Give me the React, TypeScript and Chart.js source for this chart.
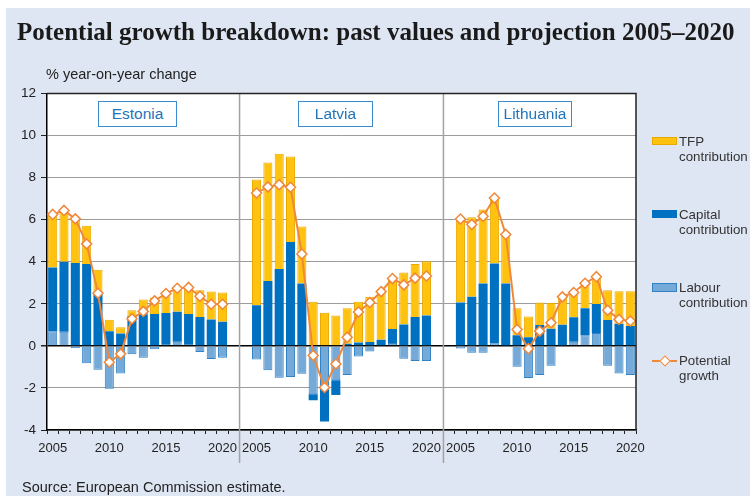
import React, { useEffect, useRef } from 'react';
import { Chart, registerables } from 'chart.js';

Chart.register(...registerables);

// ---------- data ----------
const YEARS = ['2005', '2006', '2007', '2008', '2009', '2010', '2011', '2012', '2013', '2014', '2015', '2016', '2017', '2018', '2019', '2020'];
const COUNTRIES = ['Estonia', 'Latvia', 'Lithuania'];
const GAP_SLOTS = 2;
const Y_MIN = -4;
const Y_MAX = 12;
const Y_STEP = 2;

const EE_LABOUR = [0.7, 0.67, -0.1, -0.83, -1.13, -2.04, -1.31, -0.4, -0.57, -0.16, 0.05, 0.2, 0.05, -0.29, -0.62, -0.57];
const EE_CAPITAL = [3.03, 3.33, 3.94, 3.89, 2.46, 0.69, 0.59, 1.42, 1.5, 1.52, 1.51, 1.42, 1.47, 1.37, 1.26, 1.15];
const EE_TFP = [2.59, 2.44, 2.1, 1.82, 1.16, 0.55, 0.3, 0.27, 0.7, 0.78, 0.93, 1.13, 1.29, 1.28, 1.32, 1.39];
const EE_POTENTIAL = [6.25, 6.44, 6.04, 4.85, 2.5, -0.78, -0.38, 1.29, 1.64, 2.14, 2.49, 2.74, 2.78, 2.36, 1.98, 1.98];

const LV_LABOUR = [-0.65, -1.16, -1.52, -1.48, -1.32, -2.3, -1.9, -1.63, -1.39, -0.51, -0.27, 0, 0.14, -0.61, -0.72, -0.72];
const LV_CAPITAL = [1.93, 3.09, 3.65, 4.94, 2.97, -0.29, -1.7, -0.7, 0.1, 0.16, 0.18, 0.29, 0.66, 1.02, 1.37, 1.44];
const LV_TFP = [5.98, 5.63, 5.49, 4.07, 2.71, 2.1, 1.58, 1.45, 1.69, 1.94, 2.16, 2.33, 2.4, 2.47, 2.52, 2.58];
const LV_POTENTIAL = [7.27, 7.56, 7.66, 7.54, 4.37, -0.46, -1.98, -0.86, 0.41, 1.61, 2.06, 2.58, 3.2, 2.9, 3.22, 3.32];

const LT_LABOUR = [-0.13, -0.33, -0.33, 0.13, 0, -0.99, -1.53, -1.39, -0.94, 0, 0.2, 0.51, 0.61, -0.94, -1.31, -1.39];
const LT_CAPITAL = [2.06, 2.34, 2.97, 3.79, 2.97, 0.51, 0.41, 0.99, 0.81, 1.0, 1.16, 1.28, 1.38, 1.23, 1.05, 0.94];
const LT_TFP = [3.98, 3.78, 3.52, 3.08, 2.33, 1.28, 0.99, 1.07, 1.23, 1.3, 1.19, 1.21, 1.26, 1.42, 1.55, 1.66];
const LT_POTENTIAL = [6.03, 5.77, 6.16, 7.03, 5.3, 0.78, -0.14, 0.7, 1.1, 2.33, 2.54, 2.98, 3.29, 1.69, 1.26, 1.18];

const LABOUR = [EE_LABOUR, LV_LABOUR, LT_LABOUR];
const CAPITAL = [EE_CAPITAL, LV_CAPITAL, LT_CAPITAL];
const TFP = [EE_TFP, LV_TFP, LT_TFP];
const POTENTIAL = [EE_POTENTIAL, LV_POTENTIAL, LT_POTENTIAL];

// ---------- styles ----------
const C_TFP = '#ffc20e';
const C_TFP_BORDER = '#eaa900';
const C_CAPITAL = '#0070c0';
const C_LABOUR = '#74a9d8';
const C_LABOUR_BORDER = '#2f82c6';
const C_LINE = '#f0883a';
const BG = '#dfe6f3';
const SANS = '"Liberation Sans", Arial, sans-serif';
const SERIF = '"Liberation Serif", "Times New Roman", serif';

function joinPanels<T>(parts: T[][], gap: T): T[] {
  const out: T[] = [];
  parts.forEach((p, i) => {
    if (i > 0) for (let g = 0; g < GAP_SLOTS; g++) out.push(gap);
    out.push(...p);
  });
  return out;
}

const LABELS = joinPanels(COUNTRIES.map(() => YEARS), '');

const decorPlugin = {
  id: 'decor',
  beforeDraw(chart: any) {
    const { ctx, chartArea } = chart;
    ctx.save();
    ctx.fillStyle = '#ffffff';
    ctx.fillRect(chartArea.left, chartArea.top, chartArea.right - chartArea.left, chartArea.bottom - chartArea.top);
    ctx.restore();
  },
  afterDraw(chart: any) {
    const { ctx, chartArea, scales } = chart;
    const x = scales.x;
    const slot = (chartArea.right - chartArea.left) / LABELS.length;
    ctx.save();
    // separators between panels
    ctx.strokeStyle = '#a3a3a3';
    ctx.lineWidth = 1.5;
    for (let i = 1; i < COUNTRIES.length; i++) {
      const idx = i * YEARS.length + (i - 1) * GAP_SLOTS; // first gap slot
      const px = x.getPixelForValue(idx) + slot / 2;
      ctx.beginPath();
      ctx.moveTo(px, chartArea.top);
      ctx.lineTo(px, 463);
      ctx.stroke();
    }
    // right & top border
    ctx.strokeStyle = '#222';
    ctx.lineWidth = 1.5;
    ctx.beginPath();
    ctx.moveTo(chartArea.left, chartArea.top);
    ctx.lineTo(chartArea.right, chartArea.top);
    ctx.lineTo(chartArea.right, chartArea.bottom);
    ctx.stroke();
    ctx.restore();
  },
};

export default function App() {
  const canvasRef = useRef<HTMLCanvasElement | null>(null);

  useEffect(() => {
    document.body.style.margin = '0';
    const canvas = canvasRef.current;
    if (!canvas) return;
    const chart = new Chart(canvas, {
      type: 'bar',
      data: {
        labels: LABELS,
        datasets: [
          {
            type: 'line',
            label: 'Potential growth',
            data: joinPanels(POTENTIAL, null as any),
            borderColor: C_LINE,
            borderWidth: 2,
            pointStyle: 'rectRot',
            pointRadius: 5,
            pointBackgroundColor: '#ffffff',
            pointBorderColor: C_LINE,
            pointBorderWidth: 1.5,
            spanGaps: false,
            tension: 0,
            stack: 'potential',
          } as any,
          {
            label: 'Labour contribution',
            data: joinPanels(LABOUR, null as any),
            backgroundColor: C_LABOUR,
            borderColor: C_LABOUR_BORDER,
            borderWidth: 1,
            stack: 'bars',
            barPercentage: 0.8,
            categoryPercentage: 1,
          },
          {
            label: 'Capital contribution',
            data: joinPanels(CAPITAL, null as any),
            backgroundColor: C_CAPITAL,
            borderColor: C_CAPITAL,
            borderWidth: 0,
            stack: 'bars',
            barPercentage: 0.8,
            categoryPercentage: 1,
          },
          {
            label: 'TFP contribution',
            data: joinPanels(TFP, null as any),
            backgroundColor: C_TFP,
            borderColor: C_TFP_BORDER,
            borderWidth: 1,
            stack: 'bars',
            barPercentage: 0.8,
            categoryPercentage: 1,
          },
        ],
      },
      options: {
        responsive: false,
        animation: false,
        layout: { padding: { left: 0, right: 114, top: 93.5, bottom: 0 } },
        plugins: { legend: { display: false }, tooltip: { enabled: false } },
        scales: {
          x: {
            type: 'category',
            stacked: true,
            offset: true,
            grid: {
              display: true,
              drawOnChartArea: false,
              drawTicks: true,
              tickLength: 4,
              offset: true,
              color: '#222',
              lineWidth: 1,
            },
            border: { display: true, color: '#000', width: 1.5 },
            ticks: {
              autoSkip: false,
              maxRotation: 0,
              minRotation: 0,
              padding: 7,
              color: '#222',
              font: { family: SANS, size: 13 },
              callback(this: any, v: any) {
                const l = this.getLabelForValue(v);
                return l && Number(l) % 5 === 0 ? l : '';
              },
            },
            afterFit(s: any) {
              s.height = 66;
            },
          },
          y: {
            stacked: true,
            min: Y_MIN,
            max: Y_MAX,
            ticks: {
              stepSize: Y_STEP,
              padding: 5,
              color: '#222',
              font: { family: SANS, size: 13.5 },
            },
            grid: {
              color: (c: any) => (c.tick && c.tick.value === 0 ? '#000' : '#9c9c9c'),
              lineWidth: (c: any) => (c.tick && c.tick.value === 0 ? 1.5 : 1),
              tickColor: '#222',
              tickLength: 6,
              drawTicks: true,
            },
            border: { color: '#000', width: 1.5 },
            afterFit(s: any) {
              s.width = 47;
            },
          },
        },
      } as any,
      plugins: [decorPlugin],
    });
    return () => chart.destroy();
  }, []);

  const boxes = [
    { name: COUNTRIES[0], left: 98, width: 79 },
    { name: COUNTRIES[1], left: 298, width: 75 },
    { name: COUNTRIES[2], left: 498, width: 74 },
  ];

  const legendText: React.CSSProperties = {
    position: 'absolute',
    left: 679,
    fontFamily: SANS,
    fontSize: 13.3,
    lineHeight: '15.5px',
    color: '#333',
    whiteSpace: 'nowrap',
  };

  return (
    <div style={{ position: 'relative', width: 750, height: 496, background: '#fff', overflow: 'hidden' }}>
      <div style={{ position: 'absolute', left: 6, top: 8, right: 0, bottom: 0, background: BG }} />
      <canvas ref={canvasRef} width={750} height={496} style={{ position: 'absolute', left: 0, top: 0, width: 750, height: 496 }} />
      <div style={{ position: 'absolute', left: 17, top: 19, fontFamily: SERIF, fontWeight: 'bold', fontSize: 25, lineHeight: '25px', color: '#1a1a1a', whiteSpace: 'nowrap' }}>
        Potential growth breakdown: past values and projection 2005–2020
      </div>
      <div style={{ position: 'absolute', left: 46, top: 66, fontFamily: SANS, fontSize: 14.5, lineHeight: '16px', color: '#222', whiteSpace: 'nowrap' }}>
        % year-on-year change
      </div>
      <div style={{ position: 'absolute', left: 22, top: 479, fontFamily: SANS, fontSize: 14.5, lineHeight: '16px', color: '#222', whiteSpace: 'nowrap' }}>
        Source: European Commission estimate.
      </div>
      {boxes.map((b) => (
        <div
          key={b.name}
          style={{
            position: 'absolute',
            left: b.left,
            top: 101,
            width: b.width,
            height: 26,
            boxSizing: 'border-box',
            border: '1.5px solid #3a8ccf',
            background: '#fff',
            display: 'flex',
            alignItems: 'center',
            justifyContent: 'center',
            fontFamily: SANS,
            fontSize: 15.5,
            color: '#1f74bb',
          }}
        >
          {b.name}
        </div>
      ))}
      {/* legend */}
      <div style={{ position: 'absolute', left: 652, top: 137, width: 25, height: 8, boxSizing: 'border-box', background: C_TFP, border: `1px solid ${C_TFP_BORDER}` }} />
      <div style={{ ...legendText, top: 133.5 }}>TFP<br />contribution</div>
      <div style={{ position: 'absolute', left: 652, top: 210, width: 25, height: 8, boxSizing: 'border-box', background: C_CAPITAL }} />
      <div style={{ ...legendText, top: 206.5 }}>Capital<br />contribution</div>
      <div style={{ position: 'absolute', left: 652, top: 283, width: 25, height: 9, boxSizing: 'border-box', background: C_LABOUR, border: `1px solid ${C_LABOUR_BORDER}` }} />
      <div style={{ ...legendText, top: 279.5 }}>Labour<br />contribution</div>
      <div style={{ position: 'absolute', left: 652, top: 360, width: 25, height: 2, background: C_LINE }} />
      <div style={{ position: 'absolute', left: 660.5, top: 357, width: 8, height: 8, boxSizing: 'border-box', background: '#fff', border: `1.5px solid ${C_LINE}`, transform: 'rotate(45deg)' }} />
      <div style={{ ...legendText, top: 352.5 }}>Potential<br />growth</div>
    </div>
  );
}
